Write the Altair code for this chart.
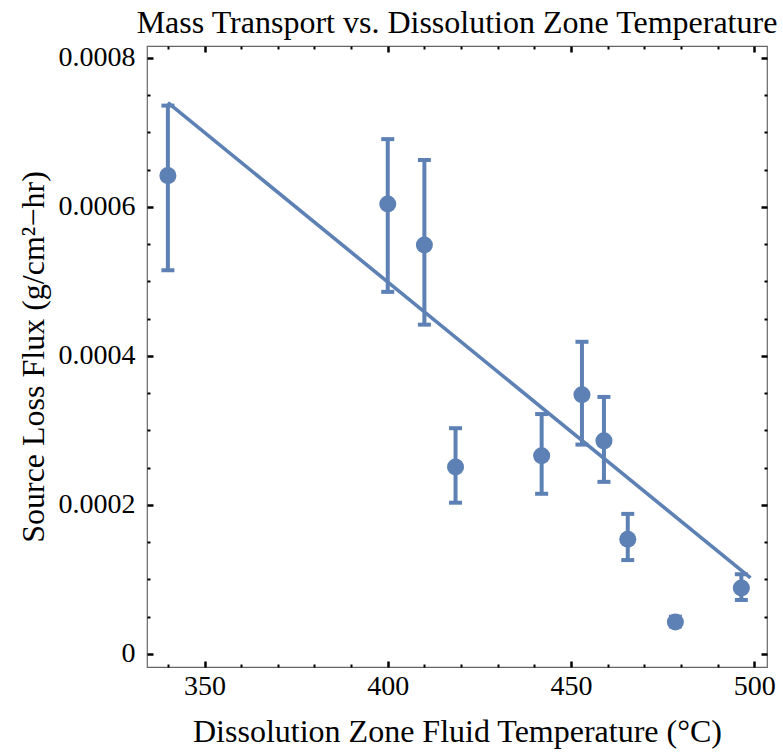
import altair as alt
import pandas as pd

# ---- data ----
temps = [340, 400, 410, 418.5, 442, 453, 459, 465.5, 478.5, 496.5]
flux = [0.000642, 0.000604, 0.000549, 0.000251, 0.000266, 0.000348, 0.000286, 0.000154, 0.000043, 0.0000886]
flux_hi = [0.000736, 0.000691, 0.000663, 0.000303, 0.000322, 0.000419, 0.000345, 0.000188, 0.000050, 0.000107]
flux_lo = [0.000515, 0.000486, 0.000442, 0.000203, 0.000215, 0.000281, 0.000231, 0.000126, 0.000037, 0.0000725]

fit_temps = [340, 499]
fit_flux = [0.000740, 0.000102]

x_major = [350, 400, 450, 500]
x_minor = [340, 360, 370, 380, 390, 410, 420, 430, 440, 460, 470, 480, 490]
y_major = [0, 0.0002, 0.0004, 0.0006, 0.0008]
y_minor = [0.00005, 0.0001, 0.00015, 0.00025, 0.0003, 0.00035, 0.00045,
           0.0005, 0.00055, 0.00065, 0.0007, 0.00075]

x_domain = [334.3, 503.5]
y_domain = [-0.0000175, 0.000816]

COLOR = "#5E81B5"
FONT = "Liberation Serif"

pts = pd.DataFrame({"t": temps, "f": flux, "hi": flux_hi, "lo": flux_lo})
fit = pd.DataFrame({"t": fit_temps, "f": fit_flux})

xs = alt.Scale(domain=x_domain, nice=False, zero=False)
ys = alt.Scale(domain=y_domain, nice=False, zero=False)

common = dict(domain=False, grid=False, tickColor="#000000", labelColor="#000000",
              labelFont=FONT, labelFontSize=28, titleFont=FONT, titleFontSize=32,
              titleFontWeight="normal", titleColor="#000000")


def xaxis(orient, values, size, width, labels, title=None):
    kw = dict(common)
    kw.update(orient=orient, values=values, tickSize=size, tickWidth=width,
              offset=-size, labels=labels)
    if labels:
        kw.update(labelPadding=5, format="d")
    if title:
        kw.update(title=title, titlePadding=16)
    else:
        kw.update(title=None)
    return alt.Axis(**kw)


def yaxis(orient, values, size, width, labels, title=None):
    kw = dict(common)
    kw.update(orient=orient, values=values, tickSize=size, tickWidth=width,
              offset=-size, labels=labels)
    if labels:
        kw.update(labelPadding=12,
                  labelExpr="datum.value == 0 ? '0' : format(datum.value, '.4f')")
    if title:
        kw.update(title=title, titlePadding=8)
    else:
        kw.update(title=None)
    return alt.Axis(**kw)


line = alt.Chart(fit).mark_line(color=COLOR, strokeWidth=3.6).encode(
    x=alt.X("t:Q", scale=xs,
            axis=xaxis("bottom", x_major, 6, 2.5, True,
                       "Dissolution Zone Fluid Temperature (°C)")),
    y=alt.Y("f:Q", scale=ys,
            axis=yaxis("left", y_major, 6, 2.5, True,
                       "Source Loss Flux (g/cm²−hr)")),
)

bars = alt.Chart(pts).mark_rule(color=COLOR, strokeWidth=4).encode(
    x=alt.X("t:Q", scale=xs, axis=xaxis("bottom", x_minor, 3, 2, False)),
    y=alt.Y("lo:Q", scale=ys, axis=yaxis("left", y_minor, 3, 2, False)),
    y2="hi:Q",
)

cap_top = alt.Chart(pts).mark_tick(color=COLOR, orient="horizontal", size=13,
                                   thickness=4, opacity=1).encode(
    x=alt.X("t:Q", scale=xs, axis=xaxis("top", x_major, 6, 2.5, False)),
    y=alt.Y("hi:Q", scale=ys, axis=yaxis("right", y_major, 6, 2.5, False)),
)

cap_bot = alt.Chart(pts).mark_tick(color=COLOR, orient="horizontal", size=13,
                                   thickness=4, opacity=1).encode(
    x=alt.X("t:Q", scale=xs, axis=xaxis("top", x_minor, 3, 2, False)),
    y=alt.Y("lo:Q", scale=ys, axis=yaxis("right", y_minor, 3, 2, False)),
)

dots = alt.Chart(pts).mark_circle(color=COLOR, size=290, opacity=1).encode(
    x=alt.X("t:Q", scale=xs, axis=None),
    y=alt.Y("f:Q", scale=ys, axis=None),
)

chart = alt.layer(line, bars, cap_top, cap_bot, dots).resolve_axis(
    x="independent", y="independent"
).properties(
    width=620,
    height=621,
    padding={"left": 147, "top": 46, "right": 16, "bottom": 85},
    autosize=alt.AutoSizeParams(type="none"),
    background="white",
    title=alt.TitleParams("Mass Transport vs. Dissolution Zone Temperature",
                          font=FONT, fontSize=32, fontWeight="normal",
                          color="#000000", anchor="middle", frame="group", offset=4),
).configure_view(stroke="#666666", strokeWidth=1.2)

chart.save("out.html", embed_options={"renderer": "svg", "actions": False})
